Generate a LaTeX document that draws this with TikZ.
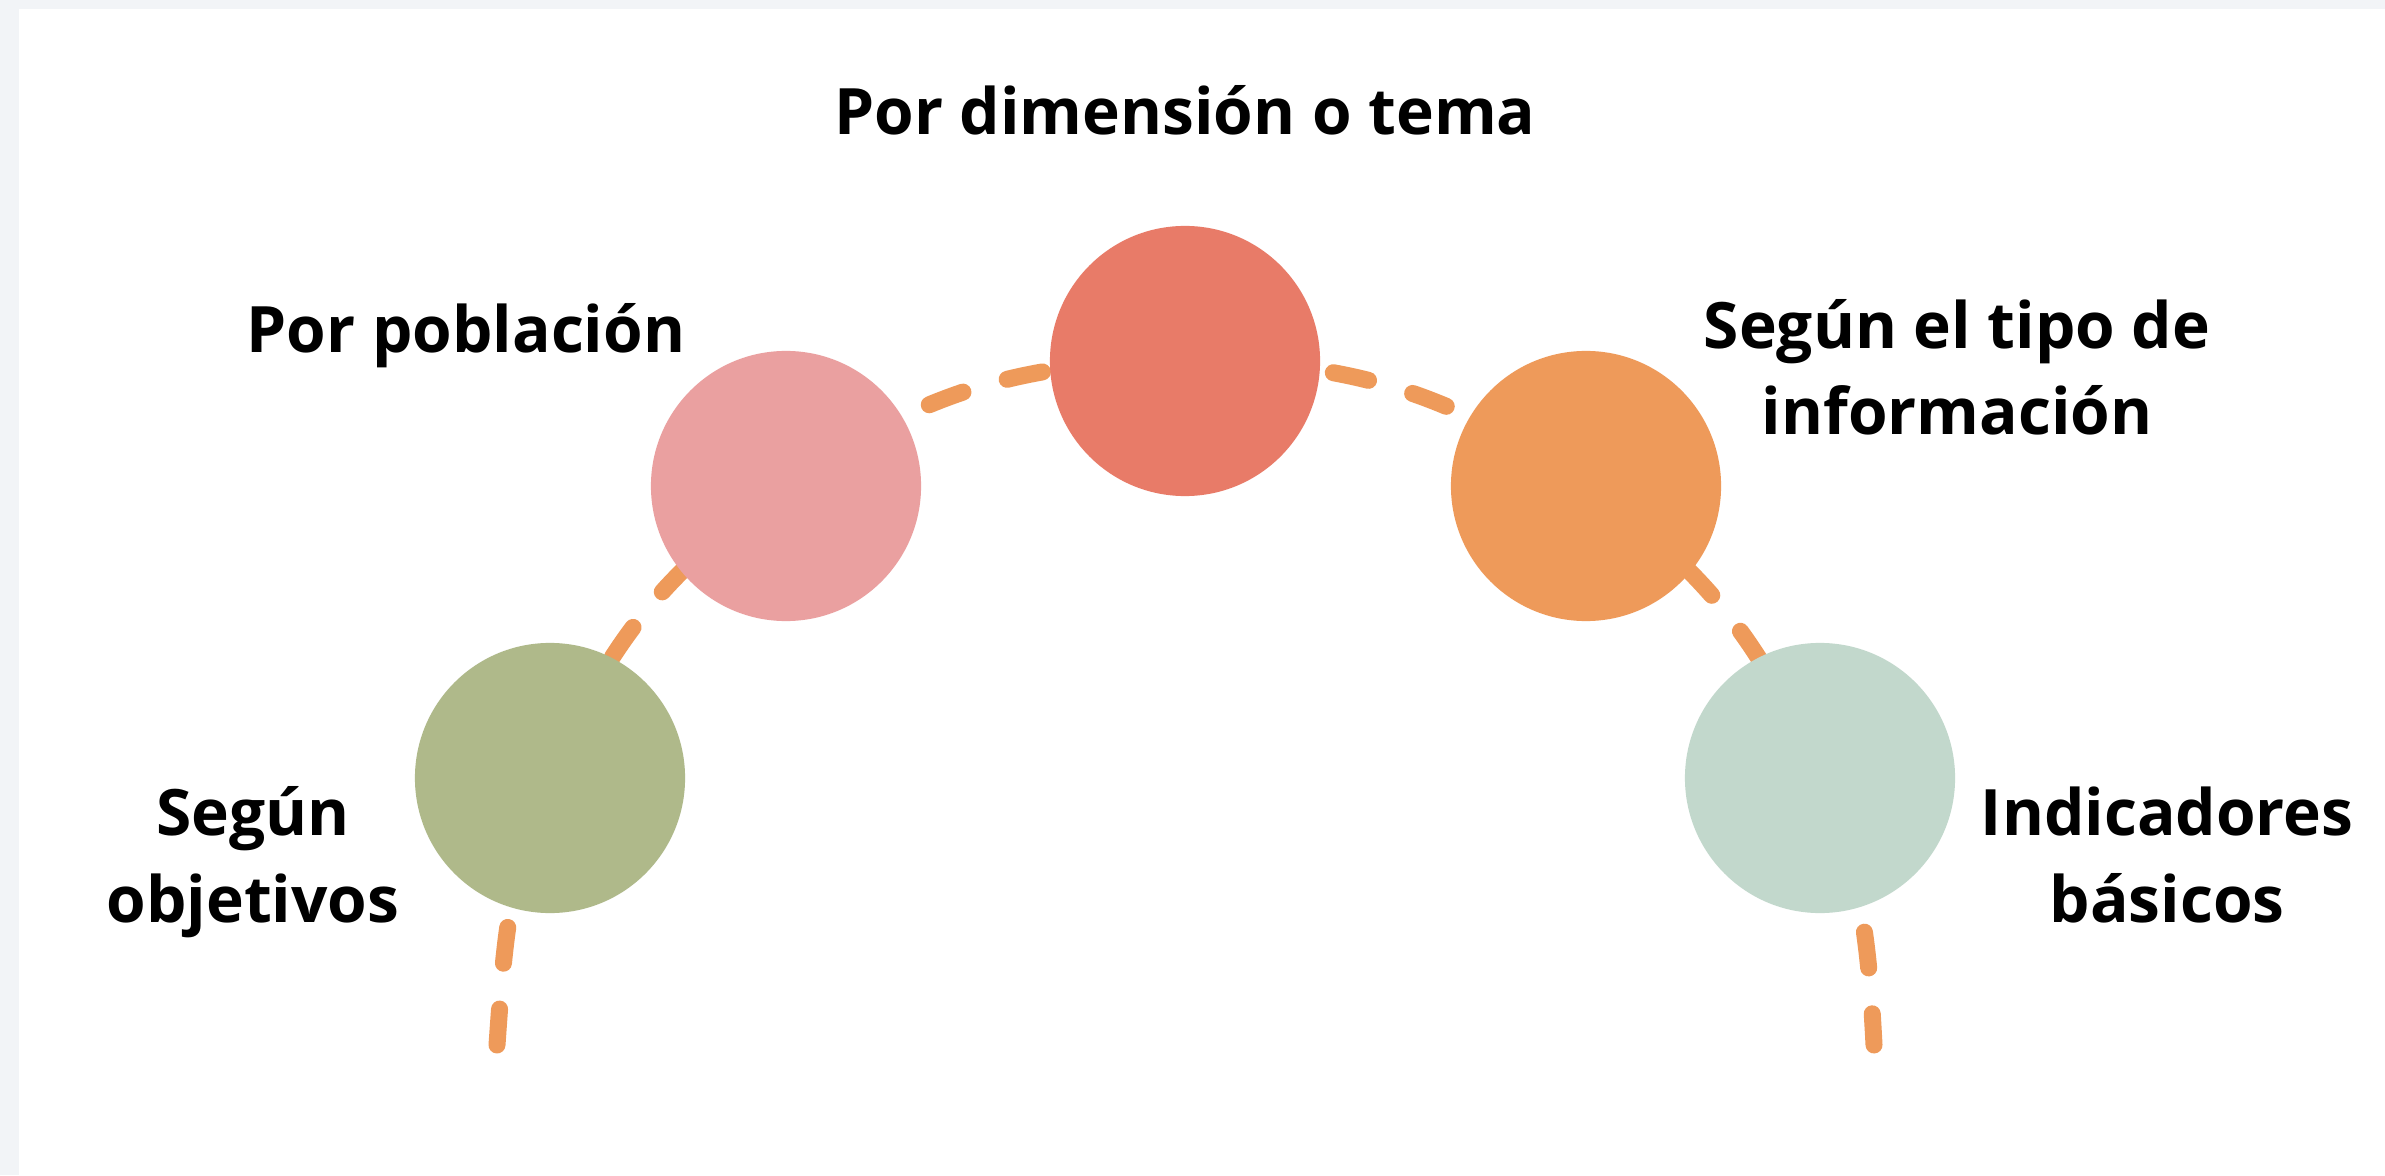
\documentclass[tikz,border=0pt]{standalone}
\usepackage{fontspec}
\setmainfont{Open Sans}
\usetikzlibrary{backgrounds}
\definecolor{olivo}{HTML}{AFB98A}
\definecolor{rosa}{HTML}{EAA0A0}
\definecolor{coral}{HTML}{E87B68}
\definecolor{naranja}{HTML}{EE9A5A}
\definecolor{menta}{HTML}{C2D8CC}
\definecolor{fondo}{HTML}{F2F4F7}

\begin{document}
\begin{tikzpicture}[x=0.01cm, y=0.01cm,
    bubble/.style = {circle, inner sep=0pt, minimum size=2.7cm},
    txt/.style = {font=\fontsize{18.2}{24.5}\selectfont\bfseries, align=center, anchor=base, inner sep=0pt},
    trail/.style = {naranja, line width=0.17cm, line cap=round, dash pattern=on 0.36cm off 0.46cm}]
    \useasboundingbox (0,0) rectangle (2385,1175);
    % nodos del arco
    \node[bubble, fill=olivo] (1) at (550,397) {};
    \node[bubble, fill=rosa] (2) at (786,689) {};
    \node[bubble, fill=coral] (3) at (1185,814) {};
    \node[bubble, fill=naranja] (4) at (1586,689) {};
    \node[bubble, fill=menta] (5) at (1820,397) {};
    \coordinate (ini) at (497,130);
    \coordinate (fin) at (1874,130);

    \node[txt] (t1) at (253,253) {Según\\objetivos};
    \node[txt] (t2) at (466,822) {Por población};
    \node[txt] (t3) at (1185,1040) {Por dimensión o tema};
    \node[txt] (t4) at (1957,740) {Según el tipo de\\información};
    \node[txt] (t5) at (2167,253) {Indicadores\\básicos};

    \begin{scope}[on background layer]
        \fill[fondo] (0,0) rectangle (2385,1175);
        \fill[white] (19,0) rectangle (2385,1166);
        \draw[trail] (ini) to[out=86, in=247] (1.center) to[out=67, in=215] (2.center)
            to[out=35, in=180] (3.center) to[out=0, in=145] (4.center)
            to[out=-35, in=113] (5.center) to[out=-67, in=93] (fin);
    \end{scope}
\end{tikzpicture}
\end{document}
